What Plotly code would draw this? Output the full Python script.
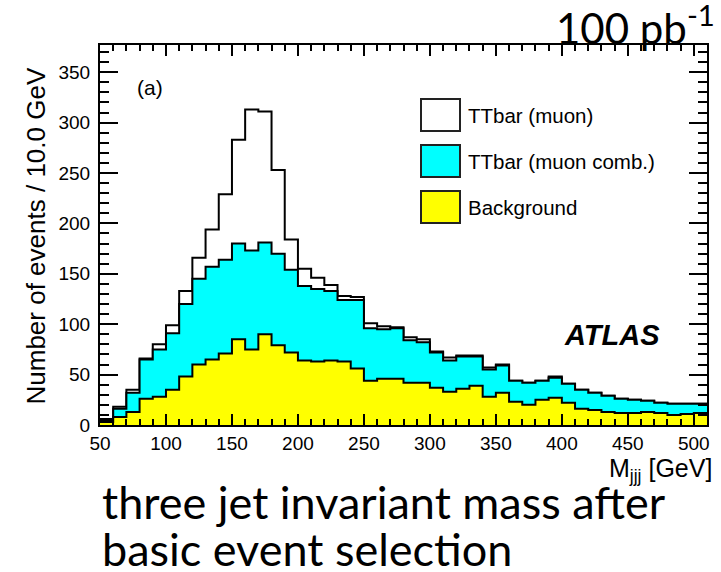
import plotly.graph_objects as go

# ---- data ----
bin_edges = list(range(50, 520, 10))  # 50..510
ttbar_muon = [6, 18, 35, 66, 80, 99, 133, 166, 194, 229, 283, 313, 311, 253, 184,
              155, 146, 139, 128, 127, 101, 98, 97, 87, 85, 73, 67, 69, 69, 57,
              60, 44, 42, 44, 48, 41, 35, 32, 29, 26, 25, 24, 22, 21, 21, 21]
ttbar_comb = [5, 16, 32, 65, 75, 91, 120, 145, 157, 164, 180, 173, 181, 170, 154,
              138, 135, 133, 124, 124, 96, 95, 96, 84, 82, 72, 64, 68, 68, 55,
              59, 44, 42, 44, 47, 41, 35, 32, 29, 26, 25, 24, 22, 21, 21, 21]
background = [3, 8, 13, 26, 28, 35, 48, 60, 65, 71, 85, 75, 90, 79, 72,
              64, 63, 64, 63, 56, 44, 46, 46, 42, 42, 37, 33, 36, 39, 28,
              32, 23, 20, 25, 27, 22, 16, 15, 13, 12, 12, 13, 12, 10, 11, 12]
legend_labels = ["TTbar (muon)", "TTbar (muon comb.)", "Background"]
fill_colors = ["#ffffff", "#00ffff", "#ffff00"]
series = [ttbar_muon, ttbar_comb, background]

W, H = 721, 572
L, R, T, B = 100, 14, 45, 147
PW, PH = W - L - R, H - T - B

def px(xp):
    return (xp - L) / PW

def py(yp):
    return (H - B - yp) / PH

fig = go.Figure()
for vals, col in zip(series, fill_colors):
    fig.add_trace(go.Scatter(
        x=bin_edges, y=vals + [vals[-1]], mode="lines", line_shape="hv",
        line=dict(color="black", width=2), fill="tozeroy", fillcolor=col,
        showlegend=False, hoverinfo="skip"))

rootfont = "Liberation Sans, Arial, sans-serif"
tickfont = dict(family=rootfont, size=19, color="black")
fig.update_xaxes(range=[50, 510], tick0=50, dtick=50, ticks="inside", ticklen=11,
                 tickwidth=1.5, tickcolor="black", mirror="allticks", showline=True,
                 linecolor="black", linewidth=2, showgrid=False, zeroline=False,
                 tickfont=tickfont, ticklabelstandoff=0,
                 minor=dict(dtick=10, tick0=50, ticks="inside", ticklen=6,
                            tickwidth=1.5, tickcolor="black", showgrid=False))
fig.update_yaxes(range=[0, 377], tick0=0, dtick=50, ticks="inside", ticklen=18,
                 tickwidth=1.5, tickcolor="black", mirror="allticks", showline=True,
                 linecolor="black", linewidth=2, showgrid=False, zeroline=False,
                 tickfont=tickfont, ticklabelstandoff=4,
                 minor=dict(dtick=10, tick0=0, ticks="inside", ticklen=9,
                            tickwidth=1.5, tickcolor="black", showgrid=False))

shapes = []
annotations = []
box_tops = [99, 145, 191]
for lab, col, top in zip(legend_labels, fill_colors, box_tops):
    shapes.append(dict(type="rect", xref="paper", yref="paper",
                       x0=px(421), x1=px(460), y0=py(top + 32), y1=py(top),
                       fillcolor=col, line=dict(color="#222222", width=2)))
    annotations.append(dict(text=lab, xref="paper", yref="paper", x=px(466),
                            y=py(top + 16), xanchor="left", yanchor="middle",
                            showarrow=False,
                            font=dict(family=rootfont, size=20.5, color="black")))

capfont = "Lato, Open Sans, sans-serif"
annotations += [
    dict(text="Number of events / 10.0 GeV", xref="paper", yref="paper",
         x=px(35), y=py(66), xanchor="center", yanchor="top", textangle=-90,
         showarrow=False, font=dict(family=rootfont, size=26, color="black")),
    dict(text="M<sub>jjj</sub> [GeV]", xref="paper", yref="paper",
         x=px(714), y=py(452), xanchor="right", yanchor="top",
         showarrow=False, font=dict(family=rootfont, size=25, color="black")),
    dict(text="(a)", xref="paper", yref="paper", x=px(135), y=py(87),
         xanchor="left", yanchor="middle", showarrow=False,
         font=dict(family=rootfont, size=21, color="black")),
    dict(text="<b><i>ATLAS</i></b>", xref="paper", yref="paper", x=px(662), y=py(335),
         xanchor="right", yanchor="middle", showarrow=False,
         font=dict(family=rootfont, size=29, color="black")),
    dict(text="100 pb<sup>-1</sup>", xref="paper", yref="paper", x=px(554), y=py(-5),
         xanchor="left", yanchor="top", showarrow=False,
         font=dict(family=capfont, size=42, color="black")),
    dict(text="three jet invariant mass after", xref="paper", yref="paper",
         x=px(100), y=py(473), xanchor="left", yanchor="top", showarrow=False,
         font=dict(family=capfont, size=45, color="black")),
    dict(text="basic event selection", xref="paper", yref="paper",
         x=px(100), y=py(520), xanchor="left", yanchor="top", showarrow=False,
         font=dict(family=capfont, size=45, color="black")),
]

fig.update_layout(width=W, height=H, margin=dict(l=L, r=R, t=T, b=B),
                  paper_bgcolor="white", plot_bgcolor="white",
                  shapes=shapes, annotations=annotations, showlegend=False)
fig.write_html("out.html")
